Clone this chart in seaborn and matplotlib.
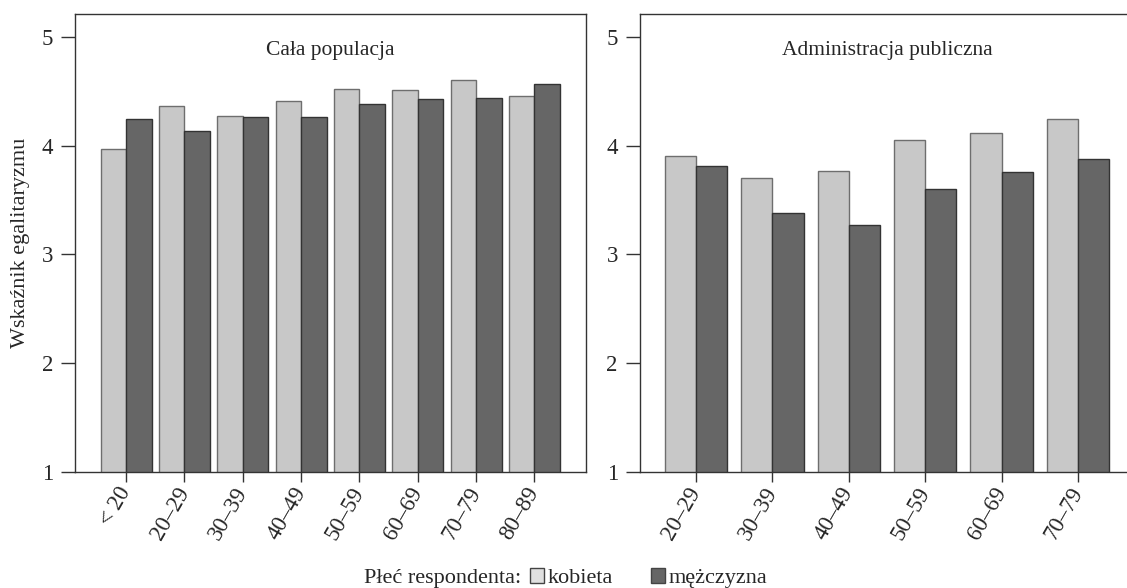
import pandas as pd
import matplotlib
matplotlib.use("Agg")
import matplotlib.pyplot as plt
from matplotlib.patches import Patch
import seaborn as sns

# Values
wiek_calosc = ["< 20", "20–29", "30–39", "40–49", "50–59", "60–69", "70–79", "80–89"]
kobieta_calosc = [3.97, 4.36, 4.27, 4.41, 4.52, 4.51, 4.60, 4.46]
mezczyzna_calosc = [4.24, 4.135, 4.26, 4.26, 4.385, 4.43, 4.435, 4.57]

wiek_admin = ["20–29", "30–39", "40–49", "50–59", "60–69", "70–79"]
kobieta_admin = [3.905, 3.70, 3.77, 4.05, 4.115, 4.245]
mezczyzna_admin = [3.81, 3.38, 3.265, 3.60, 3.76, 3.875]

plec = ["kobieta", "mężczyzna"]
kolory = ["#c8c8c8", "#666666"]

sns.set_style("white")
plt.rcParams["font.family"] = ["Liberation Serif", "DejaVu Serif"]
plt.rcParams["font.size"] = 15


def long_df(wiek, kob, mez):
    return pd.DataFrame({
        "wiek": wiek * 2,
        "wartosc": kob + mez,
        "plec": [plec[0]] * len(wiek) + [plec[1]] * len(wiek),
    })


fig = plt.figure(figsize=(11.27, 5.88), dpi=100)
ax1 = fig.add_axes([0.0668, 0.1978, 0.4529, 0.7784])
ax2 = fig.add_axes([0.5679, 0.1978, 0.4383, 0.7784])

panels = [
    (ax1, long_df(wiek_calosc, kobieta_calosc, mezczyzna_calosc), "Cała populacja", 0.874, (-0.87, 7.88)),
    (ax2, long_df(wiek_admin, kobieta_admin, mezczyzna_admin), "Administracja publiczna", 0.815, (-0.732, 5.732)),
]

for ax, df, tytul, szer, xlim in panels:
    sns.barplot(data=df, x="wiek", y="wartosc", hue="plec", hue_order=plec,
                palette=kolory, width=szer, edgecolor="#333333", linewidth=1.0,
                legend=False, ax=ax)
    # lighter outline on the light bars
    n = len(df) // 2
    for p in ax.patches[:n]:
        p.set_edgecolor("#6e6e6e")
    ax.set_ylim(1, 5.21)
    ax.set_xlim(*xlim)
    ax.set_yticks([1, 2, 3, 4, 5])
    ax.set_xlabel("")
    ax.set_ylabel("")
    for s in ax.spines.values():
        s.set_visible(True)
        s.set_color("#333333")
        s.set_linewidth(1.0)
    ax.tick_params(axis="y", direction="out", length=10, width=1.0,
                   color="#333333", pad=6, labelsize=16.5, left=True)
    ax.tick_params(axis="x", direction="out", length=7.2, width=1.0,
                   color="#333333", pad=5, labelsize=16.5, bottom=True)
    for lab in ax.get_xticklabels():
        lab.set_rotation(60)
        lab.set_ha("right")
        lab.set_va("center")
        lab.set_rotation_mode("anchor")
    ax.text(0.5, 0.921, tytul, transform=ax.transAxes, ha="center",
            va="center", fontsize=15.5)

ax1.set_ylabel("Wskaźnik egalitaryzmu", fontsize=16, labelpad=8)
ax2.spines["right"].set_visible(False)

# legend along the bottom
y_leg = 1 - 578 / 588
fig.text(0.462, y_leg, "Płeć respondenta:", ha="right", va="center",
         fontsize=16)
uchwyty = [Patch(facecolor=c, edgecolor="#444444", linewidth=1.0) for c in ["#e0e0e0", "#666666"]]
fig.legend(uchwyty, plec, loc="center left", ncol=2,
           bbox_to_anchor=(0.470, y_leg), frameon=False,
           fontsize=16, handlelength=0.65, handleheight=0.65,
           handletextpad=0.15, columnspacing=1.7, borderaxespad=0,
           borderpad=0)

fig.savefig("out.png", dpi=100)
